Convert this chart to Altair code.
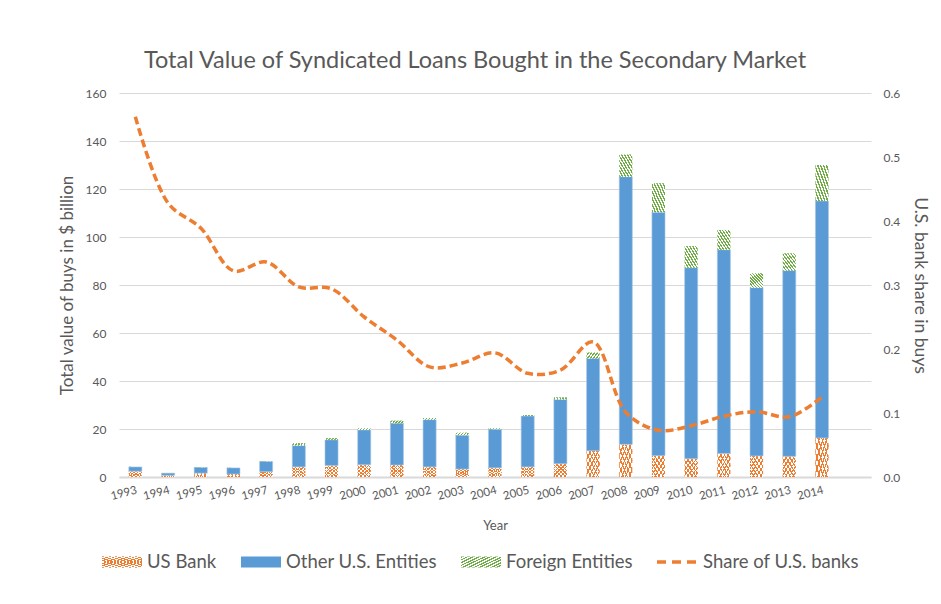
import altair as alt
import pandas as pd

# ---------------- data ----------------
years = [str(y) for y in range(1993, 2015)]
us_bank = [2.4, 0.7, 1.6, 1.25, 2.2, 4.2, 4.8, 5.1, 5.0, 4.2, 3.3, 3.8, 4.2, 5.5,
           10.9, 13.6, 8.9, 7.6, 9.8, 8.8, 8.6, 16.3]
other_us = [1.8, 0.9, 2.4, 2.55, 4.3, 8.9, 10.7, 14.5, 17.4, 19.7, 14.1, 16.1, 21.2, 26.8,
            38.5, 111.5, 101.4, 79.6, 84.9, 70.1, 77.4, 98.7]
foreign = [0.1, 0.1, 0.1, 0.1, 0.1, 1.0, 0.7, 0.7, 1.1, 0.7, 1.1, 0.4, 0.4, 0.9,
           2.5, 9.3, 12.1, 9.0, 8.2, 6.0, 7.2, 15.0]
share_us = [0.563, 0.428, 0.389, 0.322, 0.336, 0.297, 0.294, 0.250, 0.214, 0.172, 0.178,
            0.194, 0.162, 0.167, 0.211, 0.101, 0.073, 0.080, 0.095, 0.102, 0.094, 0.125]
series_names = ["US Bank", "Other U.S. Entities", "Foreign Entities", "Share of U.S. banks"]

df = pd.DataFrame({"year": years, "us": us_bank, "other": other_us, "foreign": foreign,
                   "share": share_us})
df["base"] = 0.0
df["us_top"] = df["us"]
df["other_top"] = df["us"] + df["other"]
df["foreign_top"] = df["other_top"] + df["foreign"]

GRAY = "#595959"
GRID = "#D9D9D9"
BLUE = "#5B9BD5"
ORANGE = "#ED7D31"
GREEN = "#70AD47"
FONT = "Lato"
W, H = 752, 384


def stripes(color, bg, n, frac, x1, y1, x2, y2):
    stops = []
    for i in range(n):
        a, b, c = i / n, (i + frac) / n, (i + 1) / n
        stops += [alt.GradientStop(color=color, offset=a),
                  alt.GradientStop(color=color, offset=b),
                  alt.GradientStop(color=bg, offset=b),
                  alt.GradientStop(color=bg, offset=c)]
    return alt.LinearGradient(gradient="linear", stops=stops, x1=x1, y1=y1, x2=x2, y2=y2)


us_fill_a = stripes(ORANGE, "#FFFFFF", 7, 0.32, 0, 0, 1, 1)
us_fill_b = stripes(ORANGE, "rgba(255,255,255,0)", 7, 0.32, 0, 1, 1, 0)
fg_fill = stripes(GREEN, "#FFFFFF", 9, 0.5, 0, 1, 1, 0)
us_leg_a = stripes(ORANGE, "#FFFFFF", 12, 0.32, 0, 0, 1, 1)
us_leg_b = stripes(ORANGE, "rgba(255,255,255,0)", 12, 0.32, 0, 1, 1, 0)
fg_leg = stripes(GREEN, "#FFFFFF", 14, 0.5, 0, 1, 1, 0)

x_enc = alt.X(
    "year:N",
    title="Year",
    scale=alt.Scale(domain=years + [" "], paddingInner=0.6, paddingOuter=0.3),
    axis=alt.Axis(labelAngle=345, labelFontSize=11.5, labelColor=GRAY, labelFont=FONT,
                  titleColor=GRAY, titleFontSize=13, titleFont=FONT, titleFontWeight="normal",
                  domainColor=GRID, domainWidth=2, ticks=False, labelPadding=7,
                  titlePadding=17),
)

y_scale = alt.Scale(domain=[0, 160], nice=False)
left_axis = alt.Axis(values=list(range(0, 161, 20)), gridColor=GRID, gridWidth=1,
                     labelColor=GRAY, labelFontSize=12, labelFont=FONT, domain=False,
                     ticks=False, labelPadding=13, title="Total value of buys in $ billion",
                     titleFontSize=17, titleColor=GRAY, titleFont=FONT,
                     titleFontWeight="normal", titlePadding=9)

base = alt.Chart(df)
us_a = base.mark_bar(fill=us_fill_a).encode(
    x=x_enc, y=alt.Y("us_top:Q", scale=y_scale, axis=left_axis), y2="base:Q")
us_b = base.mark_bar(fill=us_fill_b).encode(
    x=x_enc, y=alt.Y("us_top:Q", scale=y_scale), y2="base:Q")
oth = base.mark_bar(fill=BLUE, stroke="#A9C9E8", strokeWidth=0.6).encode(
    x=x_enc, y=alt.Y("other_top:Q", scale=y_scale), y2="us_top:Q")
fgn = base.mark_bar(fill=fg_fill).encode(
    x=x_enc, y=alt.Y("foreign_top:Q", scale=y_scale), y2="other_top:Q")
bars = alt.layer(us_a, us_b, oth, fgn)

line = base.mark_line(color=ORANGE, strokeWidth=3.5, strokeDash=[8, 4],
                      interpolate="catmull-rom").encode(
    x=x_enc,
    y=alt.Y("share:Q", scale=alt.Scale(domain=[0, 0.6], nice=False),
            axis=alt.Axis(orient="right", values=[0, 0.1, 0.2, 0.3, 0.4, 0.5, 0.6],
                          grid=False, domain=False, ticks=False, labelColor=GRAY,
                          labelFontSize=12, labelFont=FONT, labelPadding=12,
                          title="U.S. bank share in buys", titleFontSize=17.5,
                          titleColor=GRAY, titleFont=FONT, titleFontWeight="normal",
                          titlePadding=11)),
)

# ---------------- manual legend ----------------
LY = 469
leg_items = []
sw = [(-17, us_leg_a), (122, BLUE), (342, fg_leg)]
for i, (x0, fill) in enumerate(sw):
    one = alt.Chart(pd.DataFrame({"label": [series_names[i]]}))
    leg_items.append(one.mark_rect(fill=fill).encode(
        x=alt.value(x0), x2=alt.value(x0 + 40), y=alt.value(LY - 5.5), y2=alt.value(LY + 5.5)))
    if i == 0:
        leg_items.append(one.mark_rect(fill=us_leg_b).encode(
            x=alt.value(x0), x2=alt.value(x0 + 40), y=alt.value(LY - 5.5),
            y2=alt.value(LY + 5.5)))
one = alt.Chart(pd.DataFrame({"label": [series_names[3]]}))
leg_items.append(one.mark_rule(color=ORANGE, strokeWidth=3.5, strokeDash=[9, 6]).encode(
    x=alt.value(538), x2=alt.value(578), y=alt.value(LY)))
for lx, name in zip([28, 167, 387, 584], series_names):
    leg_items.append(alt.Chart(pd.DataFrame({"label": [name]})).mark_text(
        align="left", baseline="middle", fontSize=18.5, font=FONT, color=GRAY).encode(
        x=alt.value(lx), y=alt.value(LY), text="label:N"))
legend = alt.layer(*leg_items)

chart = alt.layer(bars, line, legend).resolve_scale(y="independent").properties(
    width=W, height=H,
    title=alt.TitleParams("Total Value of Syndicated Loans Bought in the Secondary Market",
                          fontSize=23.5, color=GRAY, font=FONT, fontWeight="normal",
                          anchor="middle", dx=-20, offset=15),
    padding={"left": 111, "top": 85, "right": 62, "bottom": 110},
    autosize=alt.AutoSizeParams(type="none"),
).configure_view(stroke=None)

chart.save("out.html", embed_options={"renderer": "svg", "actions": False})
